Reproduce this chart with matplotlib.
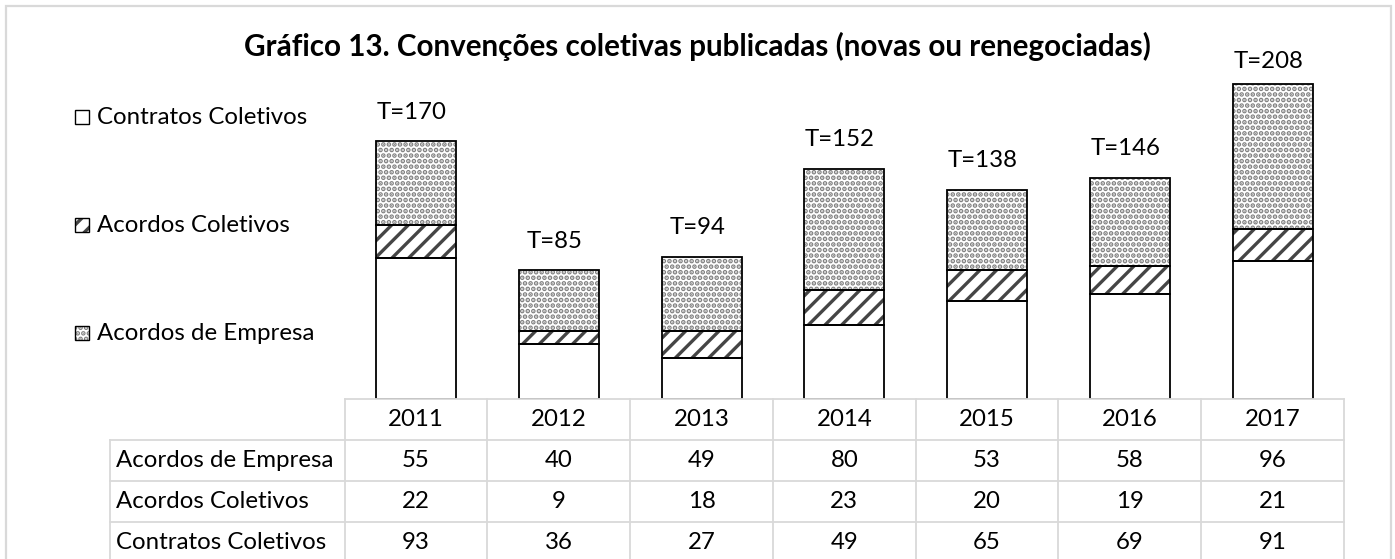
import matplotlib
matplotlib.use("Agg")
import matplotlib.pyplot as plt
from matplotlib.patches import Rectangle
from matplotlib.lines import Line2D
import numpy as np

# ---- data ----
years = ["2011", "2012", "2013", "2014", "2015", "2016", "2017"]
acordos_empresa = [55, 40, 49, 80, 53, 58, 96]
acordos_coletivos = [22, 9, 18, 23, 20, 19, 21]
contratos_coletivos = [93, 36, 27, 49, 65, 69, 91]
series_names = ["Contratos Coletivos", "Acordos Coletivos", "Acordos de Empresa"]
title = "Gráfico 13. Convenções coletivas publicadas (novas ou renegociadas)"

plt.rcParams['font.family'] = ['Lato', 'DejaVu Sans']
plt.rcParams['hatch.linewidth'] = 2.4

W, H = 1395, 559
fig = plt.figure(figsize=(W / 100, H / 100), dpi=100)

def fx(px):
    return px / W

def fy(py):
    return 1 - py / H

FS = 17.3

# layout in pixels
tbl_left = 344.6
tbl_right = 1344.0
lab_left = 110
axis_y = 399
ax_top = 60
scale = 1.515  # px per unit
ymax = (axis_y - ax_top) / scale

ax = fig.add_axes([fx(tbl_left), fy(axis_y), fx(tbl_right) - fx(tbl_left), (axis_y - ax_top) / H])
ax.set_xlim(-0.5, len(years) - 0.5)
ax.set_ylim(0, ymax)
ax.axis('off')

x = np.arange(len(years))
bw = 0.56
c = np.array(contratos_coletivos)
a = np.array(acordos_coletivos)
e = np.array(acordos_empresa)
tot = c + a + e

styles = [
    dict(fill_hatch=None, hcol=None),
    dict(fill_hatch='//', hcol='#454545'),
    dict(fill_hatch='...', hcol='#808080'),
]
bottoms = [np.zeros(len(years)), c, c + a]
vals = [c, a, e]
for v, b, st in zip(vals, bottoms, styles):
    if st['fill_hatch']:
        ax.bar(x, v, bw, bottom=b, color='white', edgecolor=st['hcol'],
               hatch=st['fill_hatch'], linewidth=0, zorder=2)
    else:
        ax.bar(x, v, bw, bottom=b, color='white', linewidth=0, zorder=2)
    ax.bar(x, v, bw, bottom=b, fill=False, edgecolor='black', linewidth=1.3, zorder=3)

# total labels (clamped inside plot area like the original)
off = 29 / scale
lab_max = (axis_y - 62) / scale
for xi, t in zip(x, tot):
    ax.text(xi - 0.03, min(t + off, lab_max), f"T={t}", ha='center', va='center',
            fontsize=FS, color='black')

# title
fig.text(fx(697.5), fy(46), title, ha='center', va='center', fontsize=21.3,
         fontweight='bold', color='black')

# legend
leg_y = [117, 225, 333]
for name, yy, st in zip(series_names, leg_y, styles):
    s = 14
    x0, y0 = 75, yy + s / 2
    if st['fill_hatch']:
        r = Rectangle((fx(x0), fy(y0)), s / W, s / H, transform=fig.transFigure,
                      facecolor='white', edgecolor=st['hcol'], hatch=st['fill_hatch'],
                      linewidth=0)
        fig.add_artist(r)
    r2 = Rectangle((fx(x0), fy(y0)), s / W, s / H, transform=fig.transFigure,
                   fill=False, edgecolor='black', linewidth=1.0)
    fig.add_artist(r2)
    fig.text(fx(97), fy(yy), name, ha='left', va='center', fontsize=FS)

# table
grid = '#d9d9d9'
lw = 1.3
col_w = (tbl_right - tbl_left) / len(years)
row_edges = [399, 440, 481, 522, 563]

def hline(x0, x1, y):
    fig.add_artist(Line2D([fx(x0), fx(x1)], [fy(y), fy(y)], transform=fig.transFigure,
                          color=grid, linewidth=lw, zorder=5))

def vline(xx, y0, y1):
    fig.add_artist(Line2D([fx(xx), fx(xx)], [fy(y0), fy(y1)], transform=fig.transFigure,
                          color=grid, linewidth=lw, zorder=5))

hline(tbl_left, tbl_right, row_edges[0])
for ry in row_edges[1:4]:
    hline(lab_left, tbl_right, ry)
vline(lab_left, row_edges[1], row_edges[4])
for i in range(len(years) + 1):
    vline(tbl_left + i * col_w, row_edges[0], row_edges[4])

for i, yr in enumerate(years):
    cx = tbl_left + (i + 0.5) * col_w
    fig.text(fx(cx), fy((row_edges[0] + row_edges[1]) / 2), yr, ha='center', va='center', fontsize=FS)

rows = [("Acordos de Empresa", acordos_empresa),
        ("Acordos Coletivos", acordos_coletivos),
        ("Contratos Coletivos", contratos_coletivos)]
for r, (name, vv) in enumerate(rows):
    cy = (row_edges[r + 1] + row_edges[r + 2]) / 2
    fig.text(fx(lab_left + 6), fy(cy), name, ha='left', va='center', fontsize=FS)
    for i, v in enumerate(vv):
        cx = tbl_left + (i + 0.5) * col_w
        fig.text(fx(cx), fy(cy), str(v), ha='center', va='center', fontsize=FS)

# outer border
fig.add_artist(Rectangle((fx(6), fy(600)), fx(1391) - fx(6), (600 - 6) / H,
                         transform=fig.transFigure, fill=False, edgecolor=grid,
                         linewidth=1.6, zorder=0))

fig.savefig("out.png", dpi=100, facecolor='white')
